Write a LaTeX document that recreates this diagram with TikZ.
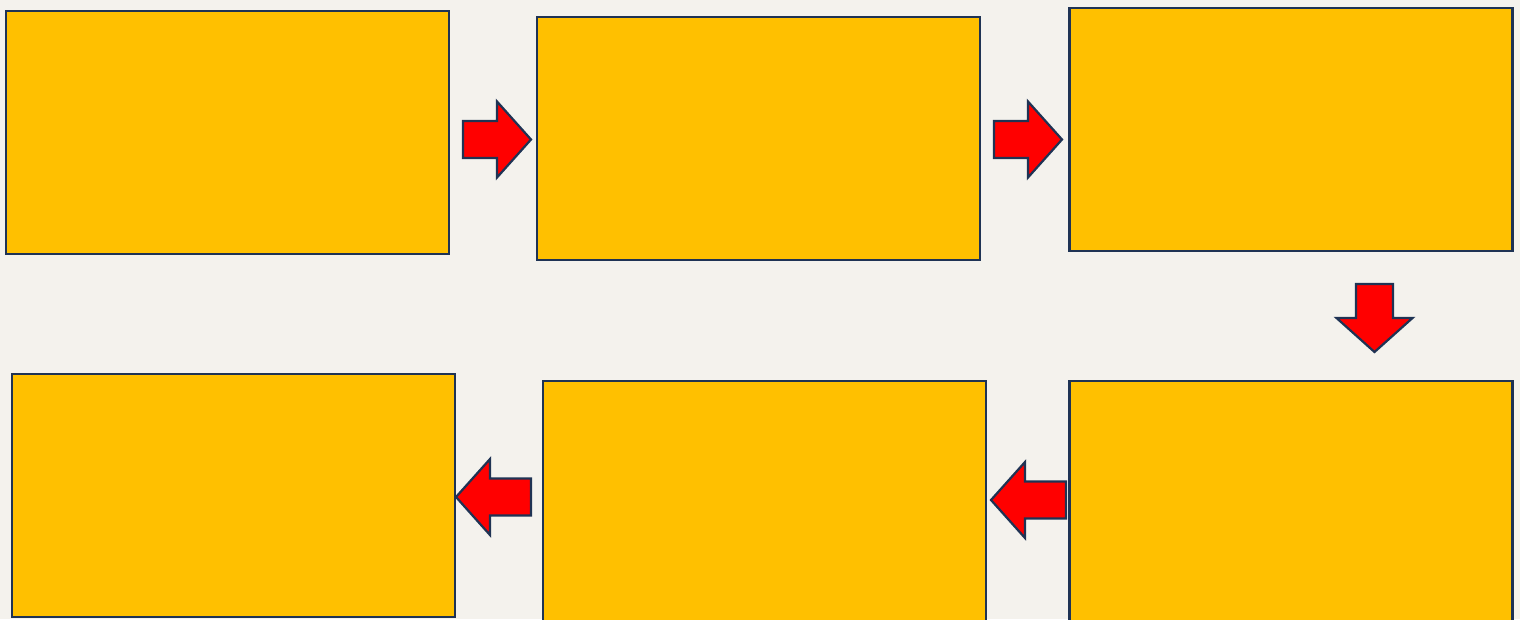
\documentclass[tikz,border=0pt]{standalone}
\usetikzlibrary{positioning}
\definecolor{bg}{HTML}{F4F2ED}
\definecolor{boxfill}{HTML}{FFC000}
\definecolor{navy}{HTML}{1F3354}
\definecolor{arrred}{HTML}{FF0000}
\tikzset{
  box/.style={draw=navy, line width=2.8pt, fill=boxfill, rectangle,
    minimum width=443pt, minimum height=243pt, inner sep=0pt},
  blockarrow/.pic={
    \draw[draw=navy, line width=2.2pt, fill=arrred, line join=miter]
      (-#1,-18.5) -- (0,-18.5) -- (0,-38) -- (34,0) -- (0,38) -- (0,18.5) -- (-#1,18.5) -- cycle;
  }
}
\begin{document}
\begin{tikzpicture}[x=1pt, y=-1pt]
\fill[bg] (0,0) rectangle (1520,619);
\useasboundingbox (0,0) rectangle (1520,619);
\node[box] (b1) at (227.5,132.5) {};
\node[box] (b2) at (758.5,138.5) {};
\node[box] (b3) at (1291,129.5) {};
\node[box] (b6) at (233.5,495.5) {};
\node[box] (b5) at (764.5,502.5) {};
\node[box] (b4) at (1291,502.5) {};
\coordinate (a1) at (497,139.5);
\coordinate (a2) at (1028,139.5);
\coordinate (a3) at (1374.5,318);
\coordinate (a4) at (1025,500);
\coordinate (a5) at (490,497);
\pic at (a1) {blockarrow=34};
\pic at (a2) {blockarrow=34};
\pic[rotate=-90] at (a3) {blockarrow=34};
\pic[rotate=180] at (a4) {blockarrow=41};
\pic[rotate=180] at (a5) {blockarrow=41};
\end{tikzpicture}
\end{document}
